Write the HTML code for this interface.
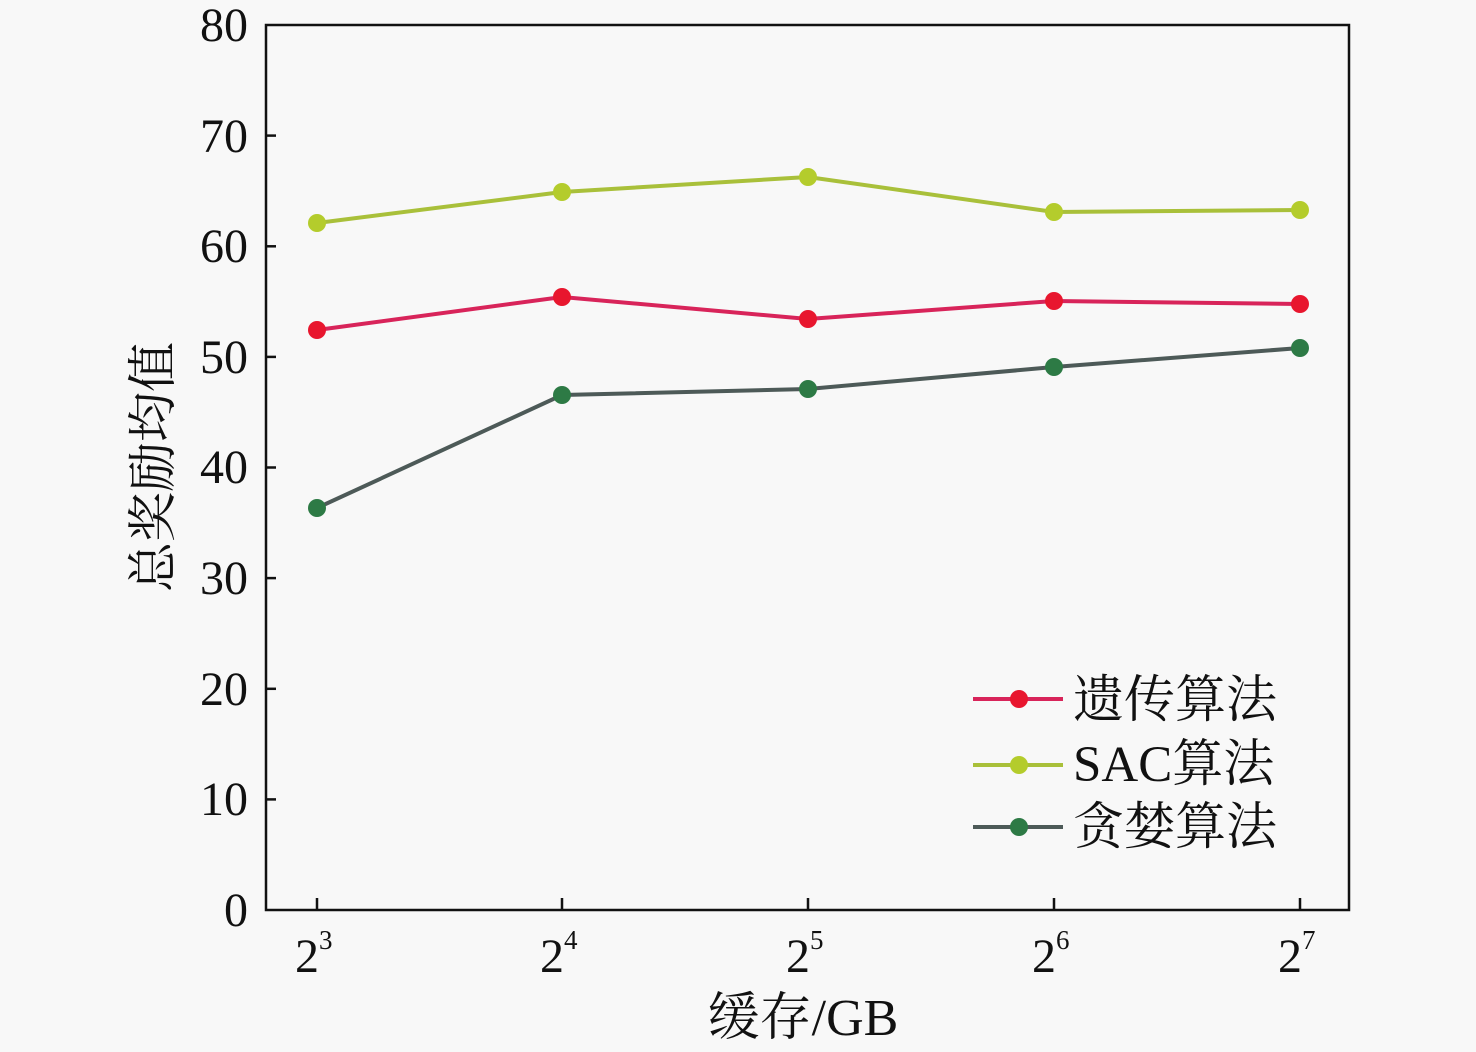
<!DOCTYPE html>
<html><head><meta charset="utf-8"><style>
html,body{margin:0;padding:0;background:#f8f8f8}
svg{display:block}
text{font-family:"Liberation Serif","Noto Serif CJK SC",serif;fill:#111}
</style></head><body>
<svg width="1476" height="1052" viewBox="0 0 1476 1052" xmlns="http://www.w3.org/2000/svg">
<rect x="0" y="0" width="1476" height="1052" fill="#f8f8f8"/>
<rect x="266" y="25" width="1083" height="885" fill="none" stroke="#111" stroke-width="2.5"/>
<g stroke="#111" stroke-width="2.5">
<line x1="266" y1="799.4" x2="276" y2="799.4"/><line x1="266" y1="688.8" x2="276" y2="688.8"/>
<line x1="266" y1="578.1" x2="276" y2="578.1"/><line x1="266" y1="467.5" x2="276" y2="467.5"/>
<line x1="266" y1="356.9" x2="276" y2="356.9"/><line x1="266" y1="246.3" x2="276" y2="246.3"/>
<line x1="266" y1="135.6" x2="276" y2="135.6"/>
<line x1="317" y1="910" x2="317" y2="898"/><line x1="562" y1="910" x2="562" y2="898"/>
<line x1="808" y1="910" x2="808" y2="898"/><line x1="1054" y1="910" x2="1054" y2="898"/>
<line x1="1300" y1="910" x2="1300" y2="898"/>
</g>
<g font-size="48" text-anchor="end">
<text x="248" y="926">0</text><text x="248" y="815">10</text><text x="248" y="705">20</text>
<text x="248" y="594">30</text><text x="248" y="483">40</text><text x="248" y="373">50</text>
<text x="248" y="262">60</text><text x="248" y="152">70</text><text x="248" y="41">80</text>
</g>
<g font-size="48">
<text x="295" y="972">2<tspan font-size="27" dy="-23">3</tspan></text>
<text x="540" y="972">2<tspan font-size="27" dy="-23">4</tspan></text>
<text x="786" y="972">2<tspan font-size="27" dy="-23">5</tspan></text>
<text x="1032" y="972">2<tspan font-size="27" dy="-23">6</tspan></text>
<text x="1278" y="972">2<tspan font-size="27" dy="-23">7</tspan></text>
</g>
<text x="803" y="1035" font-size="52" text-anchor="middle">缓存/GB</text>
<text transform="translate(170,467) rotate(-90)" font-size="50" text-anchor="middle">总奖励均值</text>
<polyline points="317,223 562,192 808,177 1054,212 1300,210" fill="none" stroke="#a9c03a" stroke-width="4"/>
<g fill="#b4cc2c"><circle cx="317" cy="223" r="9"/><circle cx="562" cy="192" r="9"/><circle cx="808" cy="177" r="9"/><circle cx="1054" cy="212" r="9"/><circle cx="1300" cy="210" r="9"/></g>
<polyline points="317,330 562,297 808,319 1054,301 1300,304" fill="none" stroke="#d8245a" stroke-width="4"/>
<g fill="#e8162e"><circle cx="317" cy="330" r="9"/><circle cx="562" cy="297" r="9"/><circle cx="808" cy="319" r="9"/><circle cx="1054" cy="301" r="9"/><circle cx="1300" cy="304" r="9"/></g>
<polyline points="317,508 562,395 808,389 1054,367 1300,348" fill="none" stroke="#4d5a58" stroke-width="4"/>
<g fill="#2d7a45"><circle cx="317" cy="508" r="9"/><circle cx="562" cy="395" r="9"/><circle cx="808" cy="389" r="9"/><circle cx="1054" cy="367" r="9"/><circle cx="1300" cy="348" r="9"/></g>
<line x1="973" y1="699" x2="1063" y2="699" stroke="#d8245a" stroke-width="4"/><circle cx="1019" cy="699" r="9" fill="#e8162e"/>
<line x1="973" y1="765" x2="1063" y2="765" stroke="#a9c03a" stroke-width="4"/><circle cx="1019" cy="765" r="9" fill="#b4cc2c"/>
<line x1="973" y1="827" x2="1063" y2="827" stroke="#4d5a58" stroke-width="4"/><circle cx="1019" cy="827" r="9" fill="#2d7a45"/>
<g font-size="51">
<text x="1073" y="717">遗传算法</text>
<text x="1073" y="781">SAC算法</text>
<text x="1073" y="844">贪婪算法</text>
</g>
</svg>
</body></html>
